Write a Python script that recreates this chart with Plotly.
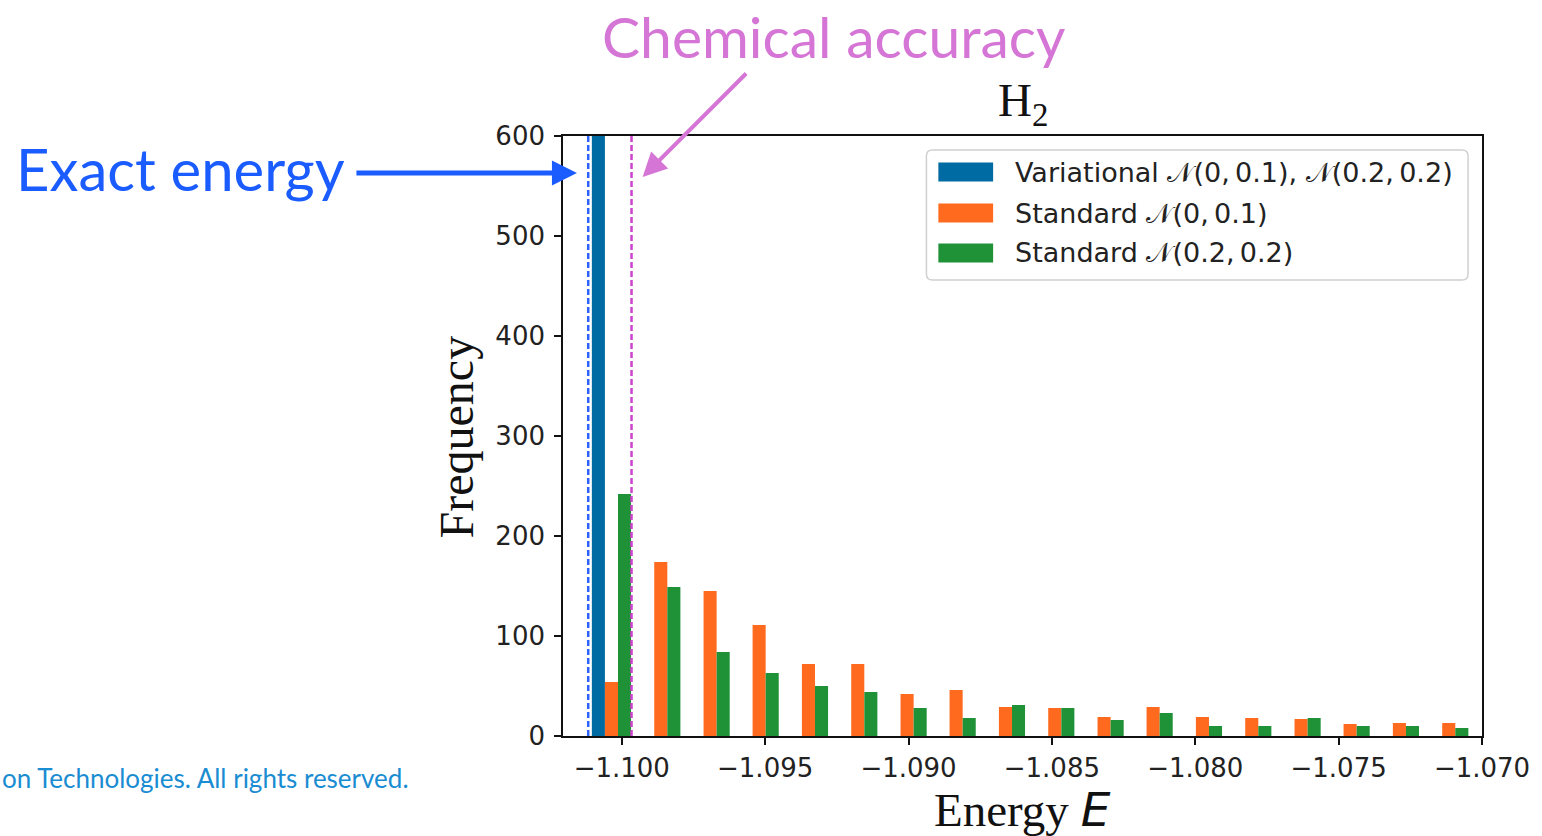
import plotly.graph_objects as go

# ---------------- data ----------------
bin_centers = [-1.10036, -1.09864, -1.09692, -1.09521, -1.09349, -1.09177,
               -1.09005, -1.08834, -1.08662, -1.08490, -1.08318, -1.08147,
               -1.07975, -1.07803, -1.07631, -1.07460, -1.07288, -1.07116]
variational = [1000, 0, 0, 0, 0, 0, 0, 0, 0, 0, 0, 0, 0, 0, 0, 0, 0, 0]
standard_a = [54, 174, 145, 111, 72, 72, 42, 46, 29, 28, 19, 29, 19, 18, 17, 12, 13, 13]
standard_b = [242, 149, 84, 63, 50, 44, 28, 18, 31, 28, 16, 23, 10, 10, 18, 10, 10, 8]

series_names = ["Variational 𝒩(0,\u20090.1), 𝒩(0.2,\u20090.2)",
                "Standard 𝒩(0,\u20090.1)",
                "Standard 𝒩(0.2,\u20090.2)"]
series_colors = ["#006aa3", "#ff6a1f", "#1f9238"]

x_tick_vals = [-1.100, -1.095, -1.090, -1.085, -1.080, -1.075, -1.070]
x_tick_text = ["−1.100", "−1.095", "−1.090", "−1.085", "−1.080", "−1.075", "−1.070"]
y_tick_vals = [0, 100, 200, 300, 400, 500, 600]
x_range = [-1.10205, -1.070]
y_range = [0, 600]

exact_energy = -1.10117
chemical_accuracy = -1.09966

# ---------------- layout helpers ----------------
W, H = 1542, 836
L, R, T, B = 563, 1486, 136, 736


def px(xp):
    return (xp - L) / (R - L)


def py(yp):
    return (B - yp) / (B - T)


fig = go.Figure()
for vals, name, col in zip([variational, standard_a, standard_b], series_names, series_colors):
    fig.add_trace(go.Bar(x=bin_centers, y=vals, name=name, marker_color=col,
                         marker_line_width=0, showlegend=False))

fig.update_layout(
    width=W, height=H,
    margin=dict(l=L, r=W - R, t=T, b=H - B, pad=0),
    paper_bgcolor="white", plot_bgcolor="white",
    barmode="group", bargap=0.2, bargroupgap=0,
    font=dict(family="DejaVu Sans", size=26, color="#222222"),
)
axis_common = dict(showline=True, linecolor="#111111", linewidth=1.6, mirror=True,
                   ticks="outside", ticklen=7, tickwidth=1.6, tickcolor="#111111",
                   showgrid=False, zeroline=False,
                   tickfont=dict(family="DejaVu Sans", size=26, color="#222222"))
fig.update_xaxes(range=x_range, tickvals=x_tick_vals, ticktext=x_tick_text,
                 ticklabelstandoff=1, **axis_common)
fig.update_yaxes(range=y_range, tickvals=y_tick_vals, ticklabelstandoff=4, **axis_common)

# reference lines
fig.add_shape(type="line", xref="x", yref="paper", x0=exact_energy, x1=exact_energy,
              y0=0, y1=1, line=dict(color="#2d62ff", width=2.5, dash="6px,3px"))
fig.add_shape(type="line", xref="x", yref="paper", x0=chemical_accuracy, x1=chemical_accuracy,
              y0=0, y1=1, line=dict(color="#cc44cc", width=2.5, dash="6px,3px"))

# custom legend
lx0, lx1, ly0, ly1, rad = 928, 1472, 150, 280, 6
path = (f"M {px(lx0 + rad)},{py(ly0)} L {px(lx1 - rad)},{py(ly0)} "
        f"Q {px(lx1)},{py(ly0)} {px(lx1)},{py(ly0 + rad)} "
        f"L {px(lx1)},{py(ly1 - rad)} Q {px(lx1)},{py(ly1)} {px(lx1 - rad)},{py(ly1)} "
        f"L {px(lx0 + rad)},{py(ly1)} Q {px(lx0)},{py(ly1)} {px(lx0)},{py(ly1 - rad)} "
        f"L {px(lx0)},{py(ly0 + rad)} Q {px(lx0)},{py(ly0)} {px(lx0 + rad)},{py(ly0)} Z")
fig.add_shape(type="path", xref="paper", yref="paper", path=path,
              line=dict(color="#d0d0d0", width=1.5), fillcolor="rgba(255,255,255,0.85)")
row_y = [172, 213, 253]
for yc, name, col in zip(row_y, series_names, series_colors):
    fig.add_shape(type="rect", xref="paper", yref="paper",
                  x0=px(940), x1=px(995), y0=py(yc - 9.5), y1=py(yc + 9.5),
                  fillcolor=col, line_width=0)
    fig.add_annotation(xref="paper", yref="paper", x=px(1015), y=py(yc), text=name,
                       showarrow=False, xanchor="left", yanchor="middle",
                       font=dict(family="DejaVu Sans", size=27, color="#222222"))

# title
fig.add_annotation(xref="paper", yref="paper", x=0.5, y=py(103), text="H<sub>2</sub>",
                   showarrow=False, xanchor="center", yanchor="middle",
                   font=dict(family="Liberation Serif", size=47, color="#111111"))
# axis titles
fig.add_annotation(xref="paper", yref="paper", x=0.5, y=py(809),
                   text="Energy <span style='font-family:DejaVu Sans;font-style:italic'>E</span>",
                   showarrow=False, xanchor="center", yanchor="middle",
                   font=dict(family="Liberation Serif", size=47, color="#111111"))
fig.add_annotation(xref="paper", yref="paper", x=px(456), y=py(437), text="Frequency",
                   textangle=-90, showarrow=False, xanchor="center", yanchor="middle",
                   font=dict(family="Liberation Serif", size=48, color="#111111"))

# callouts
fig.add_annotation(xref="paper", yref="paper", x=px(12), y=py(168), text="Exact energy",
                   showarrow=False, xanchor="left", yanchor="middle",
                   font=dict(family="Lato", size=58, color="#1a5cff"))
fig.add_annotation(xref="paper", yref="paper", x=px(577), y=py(173), text="",
                   showarrow=True, axref="pixel", ayref="pixel", ax=-222, ay=0,
                   arrowhead=2, arrowsize=1, arrowwidth=5, arrowcolor="#1a5cff")
fig.add_annotation(xref="paper", yref="paper", x=px(835), y=py(36), text="Chemical accuracy",
                   showarrow=False, xanchor="center", yanchor="middle", borderpad=0,
                   font=dict(family="Lato", size=57, color="#d575d5"))
fig.add_annotation(xref="paper", yref="paper", x=px(643), y=py(177), text="",
                   showarrow=True, ax=105, ay=-105,
                   arrowhead=2, arrowsize=1.2, arrowwidth=4, arrowcolor="#d575d5")

# footer
fig.add_annotation(xref="paper", yref="paper", x=px(-2), y=py(778),
                   text="on Technologies. All rights reserved.",
                   showarrow=False, xanchor="left", yanchor="middle",
                   font=dict(family="Lato", size=26, color="#1a8cd2"))

fig.write_html("out.html")
